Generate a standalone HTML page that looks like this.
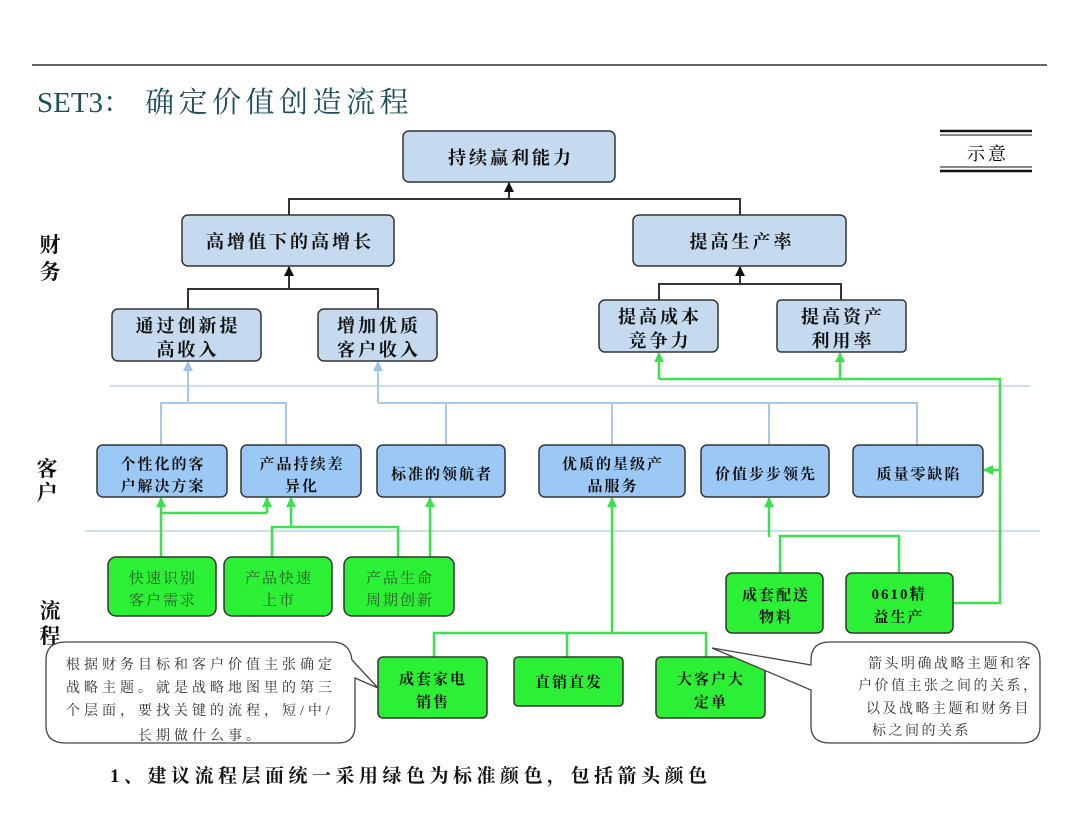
<!DOCTYPE html>
<html><head><meta charset="utf-8"><style>
body{margin:0;background:#fff}
svg text{font-family:"Liberation Serif","Noto Serif CJK SC",serif}
</style></head><body>
<svg width="1080" height="810" viewBox="0 0 1080 810" xmlns="http://www.w3.org/2000/svg">
<defs>
<marker id="ab" viewBox="0 0 10 10" refX="9" refY="5" markerWidth="5" markerHeight="5" orient="auto"><path d="M0,0 L10,5 L0,10z" fill="#111"/></marker>
<marker id="al" viewBox="0 0 10 10" refX="9" refY="5" markerWidth="5" markerHeight="5" orient="auto"><path d="M0,0 L10,5 L0,10z" fill="#9ec3ea"/></marker>
<marker id="ag" viewBox="0 0 10 10" refX="9" refY="5" markerWidth="4" markerHeight="4" orient="auto"><path d="M0,0 L10,5 L0,10z" fill="#3de04f"/></marker>
</defs>
<line x1="32" y1="65" x2="1047" y2="65" stroke="#333" stroke-width="1.5"/>
<text x="37" y="112" font-size="29" fill="#1f4e5f">SET3：<tspan x="145" letter-spacing="4.5">确定价值创造流程</tspan></text>
<g stroke="#111"><line x1="940" y1="131" x2="1032" y2="131" stroke-width="2.5"/><line x1="940" y1="135" x2="1032" y2="135" stroke-width="1"/><line x1="940" y1="167" x2="1032" y2="167" stroke-width="1"/><line x1="940" y1="171" x2="1032" y2="171" stroke-width="2.5"/></g>
<text x="988" y="160" font-size="18" text-anchor="middle" font-family="Noto Sans CJK SC" letter-spacing="3">示意</text>
<g font-family="Noto Sans CJK SC" font-size="21" font-weight="bold" fill="#111" text-anchor="middle">
<text x="50" y="252">财</text><text x="50" y="279">务</text>
<text x="47" y="476">客</text><text x="47" y="500">户</text>
<text x="50" y="618">流</text><text x="50" y="643">程</text>
</g>
<line x1="110" y1="386" x2="1030" y2="386" stroke="#b9d5ea" stroke-width="1.5"/>
<line x1="85" y1="531" x2="1040" y2="531" stroke="#b9d5ea" stroke-width="1.5"/>
<g stroke="#333" stroke-width="2" fill="none">
<path d="M289,215 V199 H740 V215"/><line x1="509" y1="199" x2="509" y2="183" marker-end="url(#ab)"/>
<path d="M188,309 V289 H378 V309"/><line x1="289" y1="289" x2="289" y2="267" marker-end="url(#ab)"/>
<path d="M659,300 V284 H841 V300"/><line x1="740" y1="284" x2="740" y2="267" marker-end="url(#ab)"/>
</g>
<g stroke="#a8c9ec" stroke-width="2" fill="none">
<path d="M161,445 V403 H286 V445"/><line x1="188" y1="403" x2="188" y2="362" marker-end="url(#al)"/>
<path d="M378,403 H917 V445 M446,403 V445 M612,403 V445 M769,403 V445"/><line x1="378" y1="403" x2="378" y2="362" marker-end="url(#al)"/>
</g>
<g stroke="#3de04f" stroke-width="2.5" fill="none">
<line x1="161" y1="557" x2="161" y2="498" marker-end="url(#ag)"/>
<path d="M161,513 H267"/><line x1="267" y1="513" x2="267" y2="498" marker-end="url(#ag)"/>
<path d="M272,557 V527 H398 V557"/><line x1="291" y1="527" x2="291" y2="498" marker-end="url(#ag)"/>
<line x1="430" y1="557" x2="430" y2="498" marker-end="url(#ag)"/>
<path d="M434,657 V633 H706 V657 M567,633 V657"/><line x1="612" y1="633" x2="612" y2="498" marker-end="url(#ag)"/>
<path d="M780,573 V536 H899 V573"/><line x1="769" y1="537" x2="769" y2="498" marker-end="url(#ag)"/>
<path d="M953,603 H1000 V379 H659"/>
<line x1="659" y1="379" x2="659" y2="353" marker-end="url(#ag)"/>
<line x1="840" y1="379" x2="840" y2="353" marker-end="url(#ag)"/>
<line x1="1000" y1="470" x2="984" y2="470" marker-end="url(#ag)"/>
</g>
<g fill="#c5d9ef" stroke="#333" stroke-width="1.5">
<rect x="403" y="131" width="212" height="51" rx="6"/>
<rect x="182" y="215" width="212" height="51" rx="6"/>
<rect x="633" y="215" width="213" height="51" rx="6"/>
<rect x="112" y="309" width="149" height="52" rx="6"/>
<rect x="318" y="309" width="119" height="52" rx="6"/>
<rect x="599" y="300" width="119" height="52" rx="6"/>
<rect x="777" y="300" width="129" height="52" rx="4"/>
</g>
<g fill="#9cc8f5" stroke="#333" stroke-width="1.5">
<rect x="97" y="445" width="130" height="52" rx="6"/>
<rect x="241" y="445" width="120" height="52" rx="6"/>
<rect x="377" y="445" width="128" height="52" rx="6"/>
<rect x="539" y="445" width="146" height="52" rx="6"/>
<rect x="701" y="445" width="128" height="52" rx="6"/>
<rect x="853" y="445" width="130" height="52" rx="6"/>
</g>
<g fill="#2cf035" stroke="#333" stroke-width="1.5">
<rect x="108" y="557" width="108" height="59" rx="8"/>
<rect x="224" y="557" width="108" height="59" rx="8"/>
<rect x="344" y="557" width="110" height="59" rx="8"/>
<rect x="726" y="573" width="97" height="60" rx="6"/>
<rect x="846" y="573" width="107" height="60" rx="6"/>
<rect x="378" y="657" width="109" height="61" rx="5"/>
<rect x="514" y="657" width="109" height="49" rx="4"/>
<rect x="656" y="657" width="109" height="61" rx="5"/>
</g>
<g font-family="Noto Serif CJK SC" font-weight="bold" font-size="18" fill="#111" text-anchor="middle" letter-spacing="3">
<text x="511" y="164">持续赢利能力</text>
<text x="290" y="248">高增值下的高增长</text>
<text x="742" y="248">提高生产率</text>
<text x="188" y="332">通过创新提</text><text x="188" y="356">高收入</text>
<text x="379" y="332">增加优质</text><text x="379" y="356">客户收入</text>
<text x="660" y="323">提高成本</text><text x="660" y="347">竞争力</text>
<text x="843" y="323">提高资产</text><text x="843" y="347">利用率</text>
<g font-size="15" letter-spacing="2">
<text x="163" y="469">个性化的客</text><text x="163" y="491">户解决方案</text>
<text x="302" y="469">产品持续差</text><text x="302" y="491">异化</text>
<text x="442" y="479">标准的领航者</text>
<text x="613" y="469">优质的星级产</text><text x="613" y="491">品服务</text>
<text x="766" y="479">价值步步领先</text>
<text x="919" y="479">质量零缺陷</text>
<g fill="#2a5a2a" font-weight="normal">
<text x="163" y="583">快速识别</text><text x="163" y="605">客户需求</text>
<text x="279" y="583">产品快速</text><text x="279" y="605">上市</text>
<text x="400" y="583">产品生命</text><text x="400" y="605">周期创新</text>
</g>
<text x="776" y="600">成套配送</text><text x="776" y="622">物料</text>
<text x="899" y="599">0610精</text><text x="899" y="622">益生产</text>
<text x="433" y="684">成套家电</text><text x="433" y="707">销售</text>
<text x="569" y="687">直销直发</text>
<text x="711" y="684">大客户大</text><text x="711" y="707">定单</text>
</g>
</g>
<path d="M66,642 H332 Q350,642 352,660 L378,688 L355,678 V726 Q355,743 338,743 H66 Q46,743 46,726 V660 Q46,642 66,642z" fill="#fff" stroke="#444" stroke-width="1.3"/>
<path d="M830,642 H1022 Q1040,642 1040,660 V726 Q1040,743 1022,743 H830 Q811,743 811,726 V690 L712,648 L811,665 V660 Q811,642 830,642z" fill="#fff" stroke="#444" stroke-width="1.3"/>
<g font-family="Noto Serif CJK SC" font-size="14" fill="#333" letter-spacing="4">
<text x="66" y="669">根据财务目标和客户价值主张确定</text>
<text x="66" y="692">战略主题。就是战略地图里的第三</text>
<text x="66" y="715">个层面，要找关键的流程，短/中/</text>
<text x="138" y="740">长期做什么事。</text>
<text x="868" y="668" letter-spacing="2.5">箭头明确战略主题和客</text>
<text x="858" y="690" letter-spacing="2.5">户价值主张之间的关系，</text>
<text x="866" y="713" letter-spacing="2.5">以及战略主题和财务目</text>
<text x="872" y="735" letter-spacing="2.5">标之间的关系</text>
</g>
<text x="110" y="782" font-family="Noto Serif CJK SC" font-weight="bold" font-size="19" fill="#111" letter-spacing="4.5">1、建议流程层面统一采用绿色为标准颜色，包括箭头颜色</text>
</svg>
</body></html>
